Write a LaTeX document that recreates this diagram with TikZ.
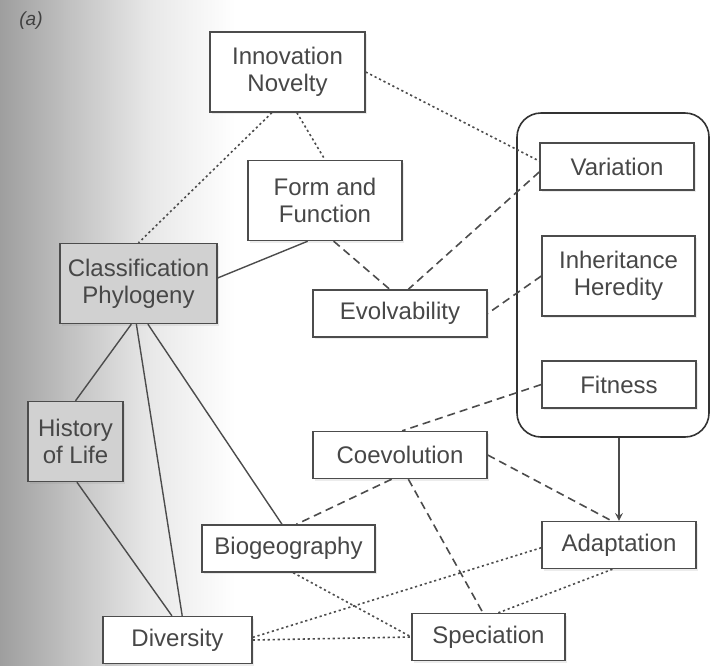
\documentclass[tikz,border=0pt]{standalone}
\usepackage{fontspec}
\setmainfont{Liberation Sans}
\usetikzlibrary{shadows}
\pgfdeclarehorizontalshading{scanfade}{100bp}{color(0bp)=(black!38); color(25bp)=(black!38); color(40bp)=(black!24); color(57bp)=(black!9); color(75bp)=(white); color(100bp)=(white)}

\begin{document}
\begin{tikzpicture}[x=0.5pt, y=-0.5pt, >=stealth,
    box/.style={draw=black!70, line width=0.7pt, fill=white, text=black!72,
      align=center, inner sep=0pt, font=\fontsize{12}{13.5}\selectfont,
      drop shadow={opacity=0.15, shadow xshift=1pt, shadow yshift=-1.2pt}},
    greybox/.style={box, fill=black!18},
    short/.style={minimum height=23.5pt},
    tall/.style={minimum height=40pt},
    solidlink/.style={draw=black!70, line width=0.7pt},
    dashlink/.style={draw=black!70, line width=0.8pt, dash pattern=on 4pt off 2.5pt},
    dotlink/.style={draw=black!70, line width=0.8pt, dash pattern=on 1.1pt off 1.4pt}]

  % Page and scanned shading on the left
  \useasboundingbox (0,0) rectangle (711,665);
  \fill[white] (0,0) rectangle (711,665);
  \shade[shading=scanfade] (0,0) rectangle (235,665);
  \node[font=\fontsize{9.5}{11}\selectfont\itshape, text=black!75] (tag) at (31,21) {(a)};

  % Selection group
  \node[draw=black!80, line width=0.8pt, rounded corners=12pt,
        minimum width=96pt, minimum height=162pt] (sel) at (613,275) {};

  % Concepts
  \node[box, tall, minimum width=77.5pt] (nov) at (287.5,72) {Innovation\\Novelty};
  \node[box, tall, minimum width=77pt] (form) at (325,200.5) {Form and\\Function};
  \node[greybox, tall, minimum width=78.5pt] (cls) at (138.5,283.5) {Classification\\Phylogeny};
  \node[box, short, minimum width=87pt] (evo) at (400,313.5) {Evolvability};
  \node[box, short, minimum width=77pt] (var) at (617,166.5) {Variation};
  \node[box, tall, minimum width=76.5pt] (inh) at (618.5,276) {Inheritance\\Heredity};
  \node[box, short, minimum width=77pt] (fit) at (619,384.5) {Fitness};
  \node[box, short, minimum width=87pt] (coe) at (400,455) {Coevolution};
  \node[box, short, minimum width=77pt] (ada) at (619,545) {Adaptation};
  \node[box, short, minimum width=76.5pt] (spe) at (488.5,637) {Speciation};
  \node[box, short, minimum width=86.5pt] (bio) at (288.5,548.5) {Biogeography};
  \node[greybox, tall, minimum width=47.5pt] (his) at (75.5,441.5) {History\\of Life};
  \node[box, short, minimum width=74.5pt] (div) at (177.5,640) {Diversity};

  % Solid links
  \draw[solidlink] (form.-113) -- (cls.4);
  \draw[solidlink] (cls.-100) -- (his.north);
  \draw[solidlink] (cls.-93) -- (div.79);
  \draw[solidlink] (cls.-77) -- (bio.105);
  \draw[solidlink] (his.-88) -- (div.103);
  \draw[solidlink, ->] (sel.south -| ada.north) -- (ada.north);

  % Dashed links
  \draw[dashlink] (form.-78) -- (evo.113);
  \draw[dashlink] (var.-176) -- (evo.71);
  \draw[dashlink] (inh.west) -- (evo.east);
  \draw[dashlink] (fit.west) -- (coe.85);
  \draw[dashlink] (coe.east) -- (ada.107);
  \draw[dashlink] (coe.-109) -- (bio.72);
  \draw[dashlink] (coe.-71) -- (spe.103);

  % Dotted links
  \draw[dotlink] (nov.east) -- (var.176);
  \draw[dotlink] (nov.-111) -- (cls.north);
  \draw[dotlink] (nov.-77) -- (form.north);
  \draw[dotlink] (bio.-79) -- (spe.west);
  \draw[dotlink] (div.2) -- (ada.182);
  \draw[dotlink] (div.east) -- (spe.west);
  \draw[dotlink] (spe.68) -- (ada.-105);
\end{tikzpicture}
\end{document}
